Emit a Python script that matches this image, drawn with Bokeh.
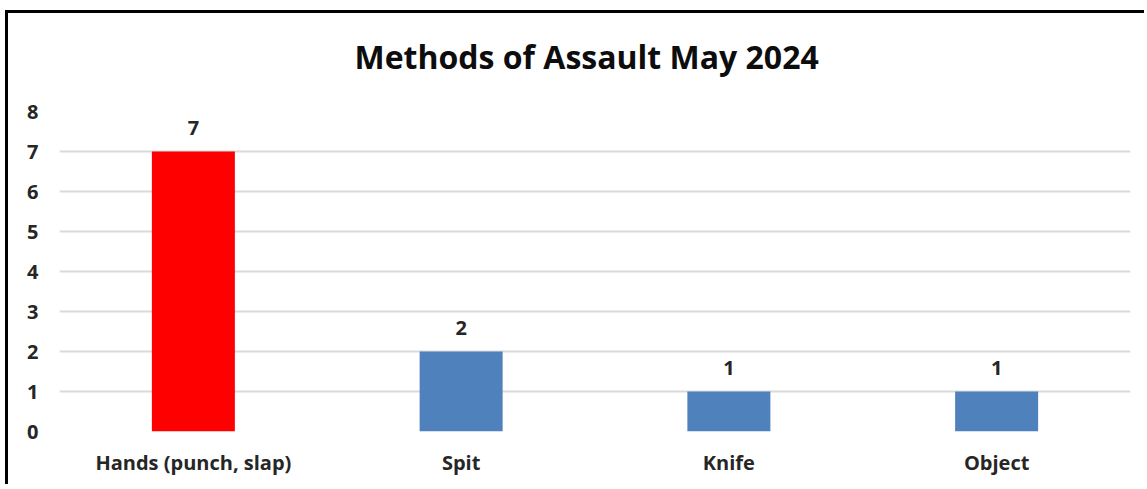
from bokeh.plotting import figure
from bokeh.models import ColumnDataSource, Range1d, FactorRange, Title
from bokeh.core.properties import value
from bokeh.embed import file_html
from bokeh.resources import INLINE

title_text = "Methods of Assault May 2024"
categories = ["Hands (punch, slap)", "Spit", "Knife", "Object"]
counts = [7, 2, 1, 1]
colors = ["#FF0000", "#4F81BD", "#4F81BD", "#4F81BD"]
labels = [str(c) for c in counts]
y_ticks = [0, 1, 2, 3, 4, 5, 6, 7, 8]

FONT = "Open Sans"
TXT = "#262626"

src = ColumnDataSource(dict(cat=categories, val=counts, col=colors, lab=labels))

p = figure(width=1139, height=474, output_backend="svg", toolbar_location=None,
           x_range=FactorRange(*categories, range_padding=0), y_range=Range1d(0, max(y_ticks)))
p.min_border_left = 51
p.min_border_right = 17
p.min_border_top = 98
p.min_border_bottom = 56
p.outline_line_color = None
p.background_fill_color = "white"
p.border_fill_color = "white"
p.styles = {"border-left": "3px solid black", "border-top": "3px solid black",
            "margin-left": "5px", "margin-top": "10px"}

# blank spacer next to the frame, so that the real title sits higher
spacer = Title(text=" ", text_font=FONT, text_font_size="20px", standoff=5)
main_title = Title(text=title_text, text_font=FONT, text_font_size="32px",
                   text_font_style="bold", text_color="#0d0d0d",
                   align="left", offset=295, standoff=0)
p.add_layout(spacer, "above")
p.add_layout(main_title, "above")

p.vbar(x="cat", top="val", width=0.31, fill_color="col", line_color=None, source=src)
p.text(x="cat", y="val", text="lab", source=src, text_align="center", text_baseline="bottom",
       y_offset=-17, text_font=value(FONT), text_font_size="20px", text_font_style="bold",
       text_color=TXT)

p.xgrid.grid_line_color = None
p.ygrid.grid_line_color = "#d9d9d9"
p.ygrid.grid_line_width = 2
p.yaxis.ticker = y_ticks

for ax in (p.xaxis[0], p.yaxis[0]):
    ax.axis_line_color = None
    ax.major_tick_line_color = None
    ax.minor_tick_line_color = None
    ax.major_tick_out = 0
    ax.major_tick_in = 0
    ax.major_label_text_font = FONT
    ax.major_label_text_font_size = "20px"
    ax.major_label_text_font_style = "bold"
    ax.major_label_text_color = TXT
p.xaxis.major_label_standoff = 17
p.yaxis.major_label_standoff = 21

open("out.html", "w").write(file_html(p, INLINE))
